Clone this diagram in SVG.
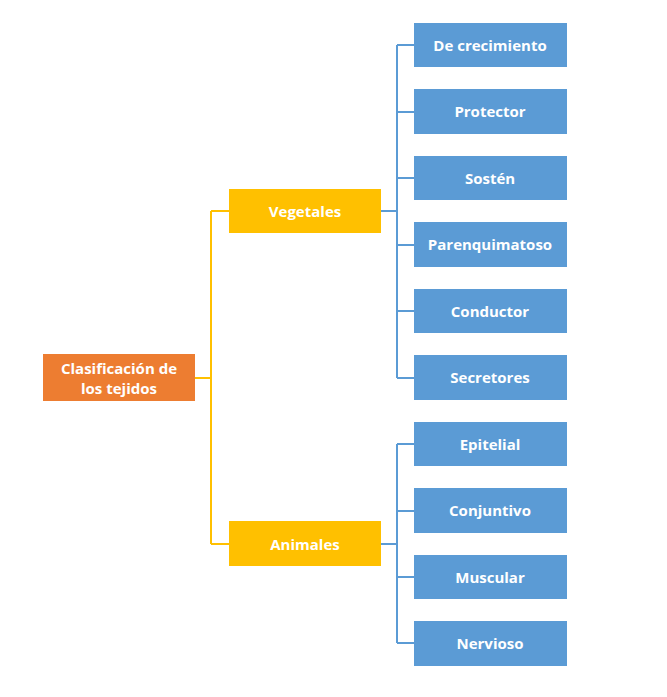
<svg xmlns="http://www.w3.org/2000/svg" width="667" height="697" viewBox="0 0 667 697">
<style>
text{font-family:"Open Sans","Liberation Sans",sans-serif;font-weight:bold;font-size:15px;fill:#fff;text-anchor:middle;dominant-baseline:central}
.b{fill:#5B9BD5}.y{fill:#FFC000}.o{fill:#ED7D31}
.cy{stroke:#FFC000;stroke-width:2;fill:none}.cb{stroke:#5B9BD5;stroke-width:2;fill:none}
</style>
<rect width="667" height="697" fill="#fff"/>
<g id="connectors">
<path class="cy" d="M195 378H211M211 211V544M211 211H229M211 544H229"/>
<path class="cb" d="M381 211H397M397 45V378M397 45H414M397 112H414M397 178H414M397 245H414M397 311H414M397 378H414"/>
<path class="cb" d="M381 544H397M397 444V643M397 444H414M397 511H414M397 577H414M397 643H414"/>
</g>
<g id="root"><rect class="o" x="43" y="354" width="152" height="47"/><text x="119" y="368">Clasificación de</text><text x="119" y="388">los tejidos</text></g>
<g id="vegetales"><rect class="y" x="229" y="189" width="152" height="44"/><text x="305" y="211">Vegetales</text></g>
<g id="animales"><rect class="y" x="229" y="521" width="152" height="45"/><text x="305" y="544">Animales</text></g>
<g id="n1"><rect class="b" x="414" y="23" width="153" height="44"/><text x="490" y="45">De crecimiento</text></g>
<g id="n2"><rect class="b" x="414" y="89" width="153" height="45"/><text x="490" y="111">Protector</text></g>
<g id="n3"><rect class="b" x="414" y="156" width="153" height="44"/><text x="490" y="178">Sostén</text></g>
<g id="n4"><rect class="b" x="414" y="222" width="153" height="45"/><text x="490" y="244">Parenquimatoso</text></g>
<g id="n5"><rect class="b" x="414" y="289" width="153" height="44"/><text x="490" y="311">Conductor</text></g>
<g id="n6"><rect class="b" x="414" y="355" width="153" height="45"/><text x="490" y="377">Secretores</text></g>
<g id="n7"><rect class="b" x="414" y="422" width="153" height="44"/><text x="490" y="444">Epitelial</text></g>
<g id="n8"><rect class="b" x="414" y="488" width="153" height="45"/><text x="490" y="510">Conjuntivo</text></g>
<g id="n9"><rect class="b" x="414" y="555" width="153" height="44"/><text x="490" y="577">Muscular</text></g>
<g id="n10"><rect class="b" x="414" y="621" width="153" height="45"/><text x="490" y="643">Nervioso</text></g>
</svg>
